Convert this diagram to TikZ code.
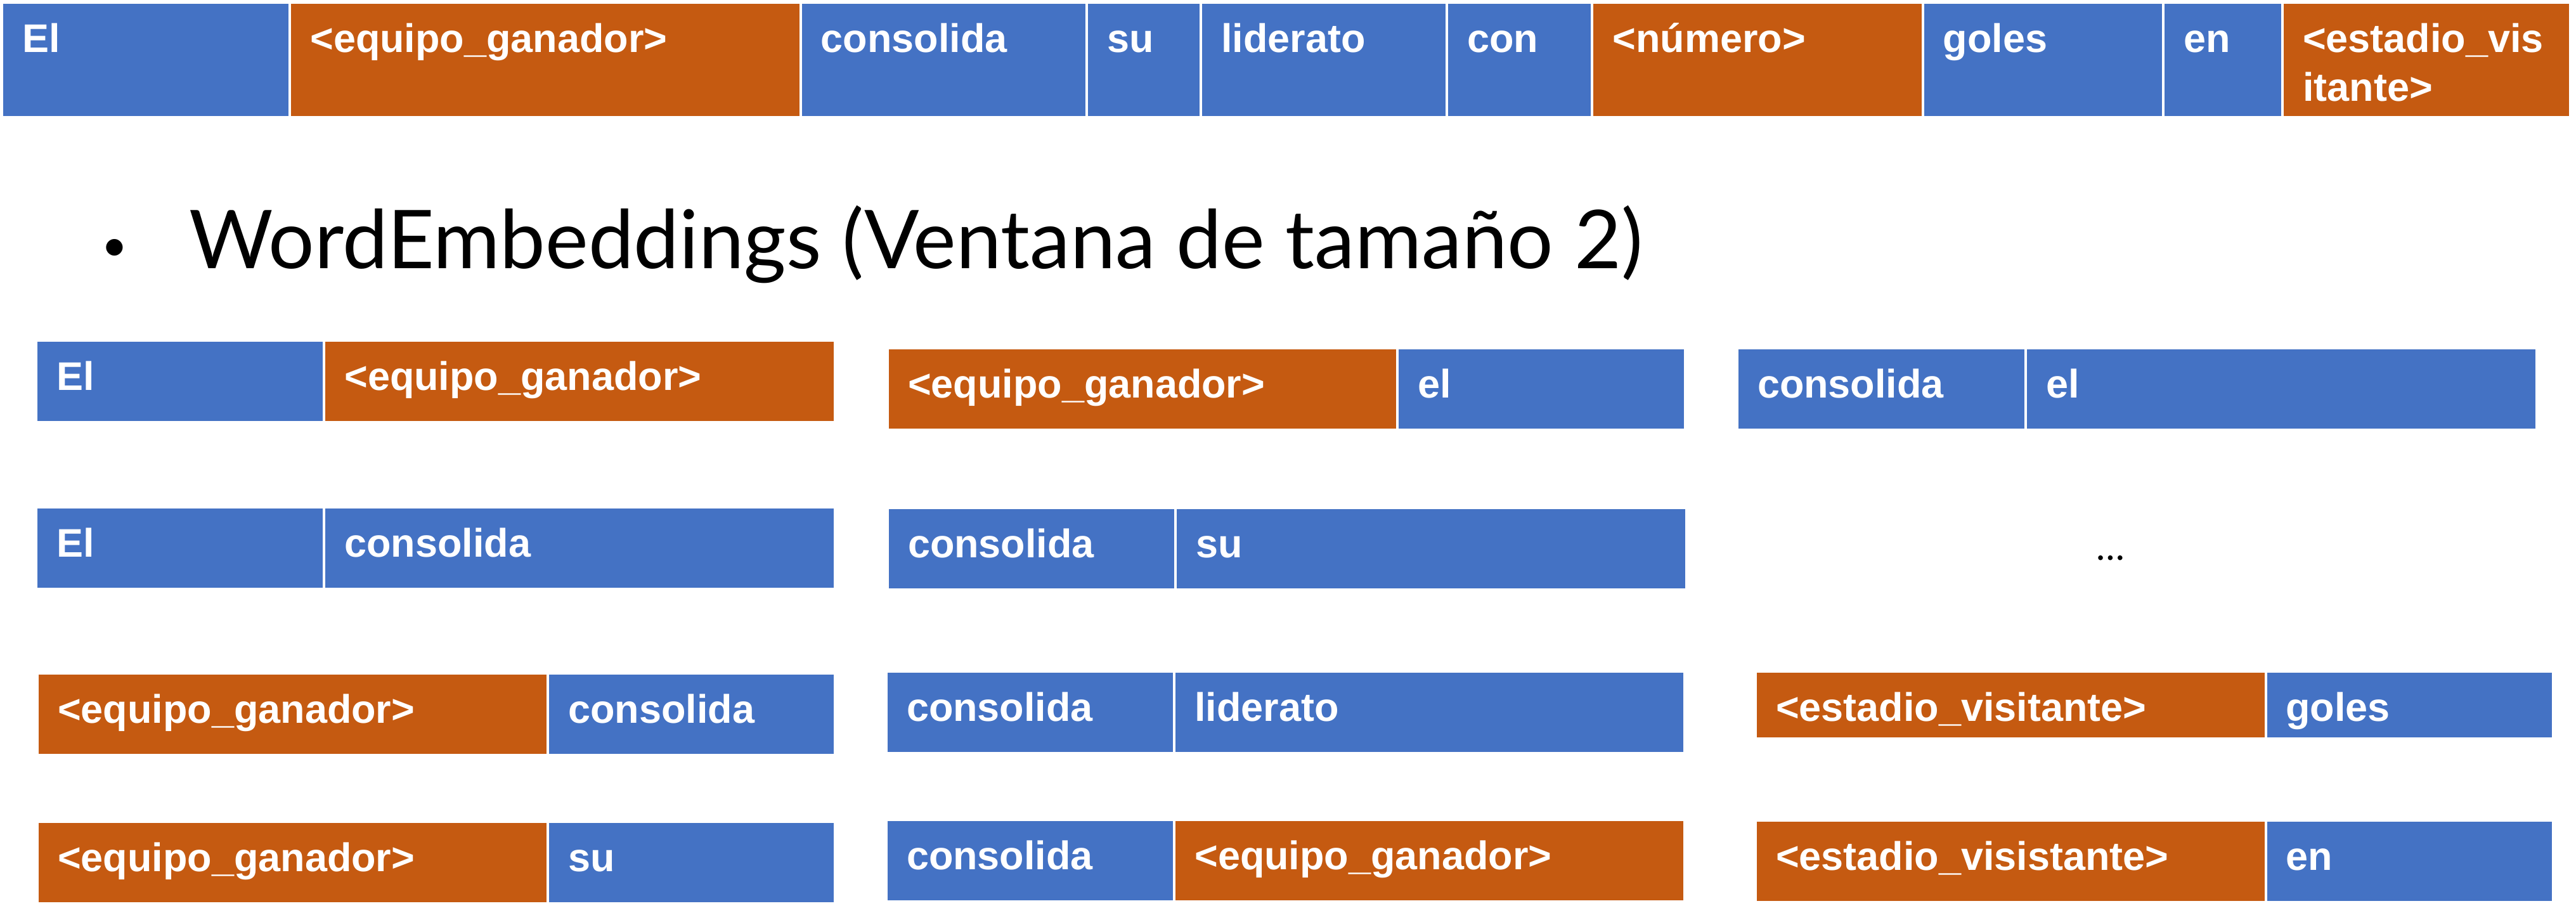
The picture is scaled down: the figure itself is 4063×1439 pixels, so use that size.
\documentclass[tikz,border=0pt]{standalone}
\usepackage{fontspec}
\setmainfont{Lato}
\newfontfamily\cellfont{Liberation Sans}
\usetikzlibrary{positioning}
\definecolor{tokblue}{HTML}{4472C4}
\definecolor{tokorange}{HTML}{C55A11}
\begin{document}
\begin{tikzpicture}[x=0.01cm,y=-0.01cm,
    cell/.style={draw=white,line width=0.04cm,outer sep=0pt,anchor=north west,inner xsep=0.32cm,inner ysep=0pt,
      text=white,font=\cellfont\bfseries\fontsize{17.9pt}{21.9pt}\selectfont,text height=0.78cm,text depth=0.51cm,
      minimum width=#1,text width=#1-0.64cm,align=left},
    wd/.style={cell=#1,fill=tokblue},
    ph/.style={cell=#1,fill=tokorange},
    bar/.style={text depth=1.03cm}]
  \useasboundingbox (0,0) rectangle (4063,1439);
  \node[wd=4.54cm,bar] (s1) at (3,4) {El};
  \node[ph=8.05cm,bar,right=0pt of s1] (s2) {<equipo\_ganador>};
  \node[wd=4.51cm,bar,right=0pt of s2] (s3) {consolida};
  \node[wd=1.80cm,bar,right=0pt of s3] (s4) {su};
  \node[wd=3.88cm,bar,right=0pt of s4] (s5) {liderato};
  \node[wd=2.29cm,bar,right=0pt of s5] (s6) {con};
  \node[ph=5.21cm,bar,right=0pt of s6] (s7) {<número>};
  \node[wd=3.79cm,bar,right=0pt of s7] (s8) {goles};
  \node[wd=1.88cm,bar,right=0pt of s8] (s9) {en};
  \node[ph=4.54cm,bar,right=0pt of s9] (s10) {<estadio\_vis\\itante>};
  \node[font=\fontsize{20pt}{24pt}\selectfont] (bullet) at (181,394) {•};
  \node[anchor=base west,font=\fontsize{36.4pt}{44pt}\selectfont] (title) at (286,423) {WordEmbeddings (Ventana de tamaño 2)};
  \node[wd=4.54cm] (p1a) at (57,537) {El};
  \node[ph=8.05cm,right=0pt of p1a] (p1b) {<equipo\_ganador>};
  \node[wd=4.54cm] (p2a) at (57,800) {El};
  \node[wd=8.05cm,right=0pt of p2a] (p2b) {consolida};
  \node[ph=8.05cm] (p3a) at (59,1062) {<equipo\_ganador>};
  \node[wd=4.52cm,right=0pt of p3a] (p3b) {consolida};
  \node[ph=8.05cm] (p4a) at (59,1296) {<equipo\_ganador>};
  \node[wd=4.52cm,right=0pt of p4a] (p4b) {su};
  \node[ph=8.04cm] (p5a) at (1400,549) {<equipo\_ganador>};
  \node[wd=4.53cm,right=0pt of p5a] (p5b) {el};
  \node[wd=4.54cm] (p6a) at (1400,801) {consolida};
  \node[wd=8.05cm,right=0pt of p6a] (p6b) {su};
  \node[wd=4.54cm] (p7a) at (1398,1059) {consolida};
  \node[wd=8.04cm,right=0pt of p7a] (p7b) {liderato};
  \node[wd=4.54cm] (p8a) at (1398,1293) {consolida};
  \node[ph=8.04cm,right=0pt of p8a] (p8b) {<equipo\_ganador>};
  \node[wd=4.55cm] (p9a) at (2740,549) {consolida};
  \node[wd=8.05cm,right=0pt of p9a] (p9b) {el};
  \node[anchor=base west,font=\fontsize{17pt}{20pt}\selectfont] (dots) at (3294,883) {…};
  \node[ph=8.04cm,text depth=0.28cm] (p10a) at (2769,1059) {<estadio\_visitante>};
  \node[wd=4.53cm,text depth=0.28cm,right=0pt of p10a] (p10b) {goles};
  \node[ph=8.04cm] (p11a) at (2769,1294) {<estadio\_visistante>};
  \node[wd=4.53cm,right=0pt of p11a] (p11b) {en};
\end{tikzpicture}
\end{document}
